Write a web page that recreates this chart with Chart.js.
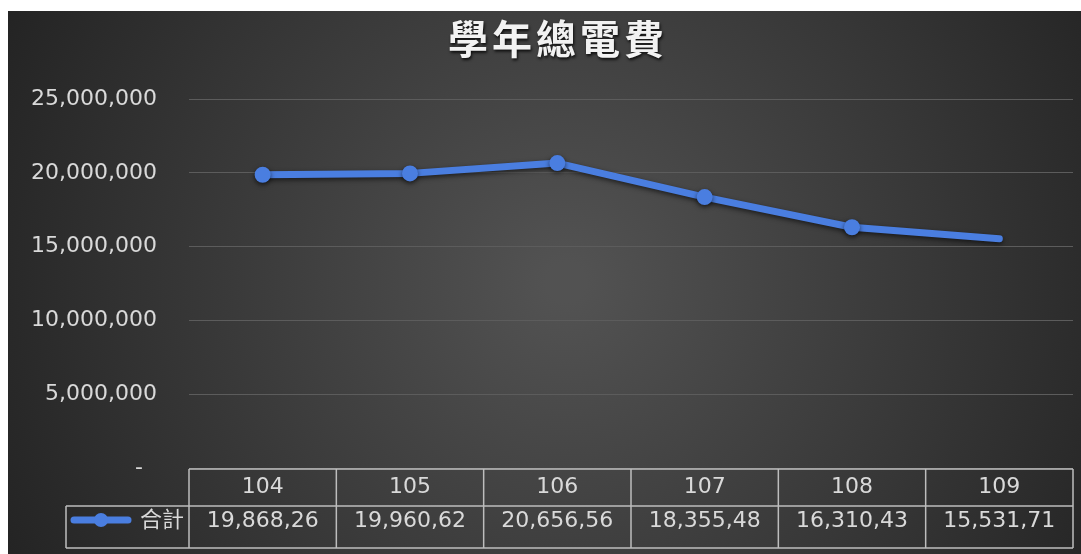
<!DOCTYPE html>
<html>
<head>
<meta charset="utf-8">
<script src="https://cdn.jsdelivr.net/npm/chart.js@4/dist/chart.umd.min.js"></script>
<style>
  html, body { margin: 0; padding: 0; background: #ffffff; }
  #wrap { position: absolute; left: 8px; top: 11px; width: 1073px; height: 543px; }
</style>
</head>
<body>
<div id="wrap"><canvas id="myChart"></canvas></div>
<script>
var categories = ['104', '105', '106', '107', '108', '109'];
var totals = [19868260, 19960620, 20656560, 18355480, 16310430, 15531710];
// what the data table shows (cells are cut off in the original)
var tableValues = ['19,868,26', '19,960,62', '20,656,56', '18,355,48', '16,310,43', '15,531,71'];
var seriesName = '合計';
var chartTitle = '學年總電費';
var pointSizes = [8, 8, 8, 8, 8, 0];

var FONT = '"DejaVu Sans", "Noto Sans CJK TC", sans-serif';
var LINE = '#4a7ee0';

var background = {
  id: 'background',
  beforeDraw: function(chart) {
    var ctx = chart.ctx;
    var w = chart.width, h = chart.height;
    var g = ctx.createRadialGradient(w * 0.52, h * 0.5, 20, w * 0.52, h * 0.5, w * 0.6);
    g.addColorStop(0, '#525252');
    g.addColorStop(1, '#222222');
    ctx.save();
    ctx.fillStyle = g;
    ctx.fillRect(0, 0, w, h);
    ctx.restore();
  }
};

var lineShadow = {
  id: 'lineShadow',
  beforeDatasetsDraw: function(chart) {
    var ctx = chart.ctx;
    ctx.save();
    ctx.shadowColor = 'rgba(0,0,0,0.6)';
    ctx.shadowBlur = 5;
    ctx.shadowOffsetY = 2;
  },
  afterDatasetsDraw: function(chart) {
    chart.ctx.restore();
  }
};

var titleAndTable = {
  id: 'titleAndTable',
  afterDraw: function(chart) {
    var ctx = chart.ctx;
    var area = chart.chartArea;
    var x = chart.scales.x;
    var n = categories.length;
    var colW = (area.right - area.left) / n;
    var top = area.bottom + 1;
    var mid = top + 37;
    var bottom = mid + 42;
    var legendLeft = 58;

    ctx.save();
    // title
    ctx.font = 'bold 40px "Noto Sans CJK TC", sans-serif';
    ctx.fillStyle = '#f2f2f2';
    ctx.textAlign = 'center';
    ctx.textBaseline = 'middle';
    ctx.shadowColor = 'rgba(0,0,0,0.8)';
    ctx.shadowBlur = 3;
    ctx.shadowOffsetX = 1;
    ctx.shadowOffsetY = 2;
    if (ctx.letterSpacing !== undefined) ctx.letterSpacing = '4px';
    ctx.fillText(chartTitle, 550, 28);
    if (ctx.letterSpacing !== undefined) ctx.letterSpacing = '0px';
    ctx.shadowColor = 'transparent';

    // table grid
    ctx.strokeStyle = '#bdbdbd';
    ctx.lineWidth = 1.5;
    ctx.beginPath();
    ctx.moveTo(area.left, top); ctx.lineTo(area.right, top);
    ctx.moveTo(legendLeft, mid); ctx.lineTo(area.right, mid);
    ctx.moveTo(legendLeft, bottom); ctx.lineTo(area.right, bottom);
    ctx.moveTo(legendLeft, mid); ctx.lineTo(legendLeft, bottom);
    for (var i = 0; i <= n; i++) {
      var cx = area.left + i * colW;
      ctx.moveTo(cx, top); ctx.lineTo(cx, bottom);
    }
    ctx.stroke();

    // table text
    ctx.font = '22px ' + FONT;
    ctx.fillStyle = '#d9d9d9';
    ctx.textAlign = 'center';
    for (var j = 0; j < n; j++) {
      var px = x.getPixelForValue(j);
      ctx.fillText(categories[j], px, top + 18);
      ctx.fillText(tableValues[j], px, mid + 15);
    }

    // legend key
    ctx.textAlign = 'right';
    ctx.fillText(seriesName, area.left - 5, mid + 15);
    ctx.strokeStyle = LINE;
    ctx.lineWidth = 7;
    ctx.lineCap = 'round';
    ctx.beginPath();
    ctx.moveTo(legendLeft + 8, mid + 14);
    ctx.lineTo(legendLeft + 62, mid + 14);
    ctx.stroke();
    ctx.fillStyle = LINE;
    ctx.beginPath();
    ctx.arc(legendLeft + 35, mid + 14, 7, 0, Math.PI * 2);
    ctx.fill();
    ctx.restore();
  }
};

var chart = new Chart(document.getElementById('myChart'), {
  type: 'line',
  data: {
    labels: categories,
    datasets: [
      {
        label: seriesName,
        data: totals,
        borderColor: LINE,
        backgroundColor: LINE,
        borderWidth: 7,
        borderCapStyle: 'round',
        borderJoinStyle: 'round',
        pointRadius: pointSizes,
        pointBorderWidth: 0,
        tension: 0,
        fill: false
      }
    ]
  },
  options: {
    animation: false,
    responsive: true,
    maintainAspectRatio: false,
    events: [],
    layout: {
      padding: { top: 88, right: 1, bottom: 86, left: 0 }
    },
    scales: {
      x: {
        display: false,
        offset: true
      },
      y: {
        min: 0,
        max: 25000000,
        afterFit: function(axis) { axis.width = 181; },
        border: { display: false },
        grid: {
          color: '#5c5c5c',
          lineWidth: 1,
          drawTicks: false,
          drawOnChartArea: true
        },
        ticks: {
          stepSize: 5000000,
          padding: 32,
          color: '#d9d9d9',
          font: { family: FONT, size: 22 },
          callback: function(value) {
            return value === 0 ? '-\u2007' : value.toLocaleString('en-US');
          }
        }
      }
    },
    plugins: {
      legend: { display: false },
      title: { display: false },
      tooltip: { enabled: false }
    }
  },
  plugins: [background, lineShadow, titleAndTable]
});
</script>
</body>
</html>
